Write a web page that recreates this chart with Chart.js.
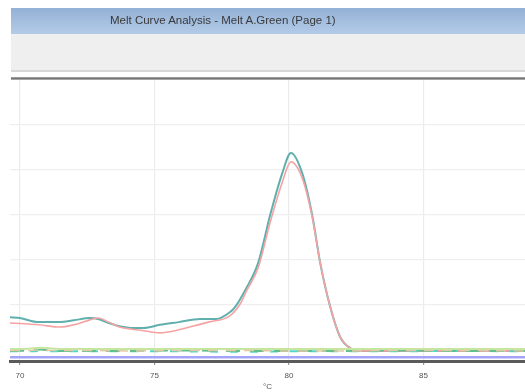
<!DOCTYPE html>
<html lang="en">
<head>
    <meta charset="UTF-8">
    <title>Melt Curve Analysis - Melt A.Green (Page 1)</title>
    <script src="https://cdn.jsdelivr.net/npm/chart.js"></script>
    <style>
        html, body { margin: 0; padding: 0; background: #fff; }
        #wrap { position: relative; width: 525px; height: 392px; overflow: hidden; }
        #titlebar {
            position: absolute; left: 11px; top: 8px; width: 514px; height: 26px;
            background: linear-gradient(#93b1d6, #b3cbe7);
            font: 11.5px "Liberation Sans", Arial, sans-serif; color: #3a3a3a;
        }
        #titlebar span { position: absolute; left: 99px; top: 6px; }
        #toolbar {
            position: absolute; left: 11px; top: 34px; width: 514px; height: 36px;
            background: #efefef; border-bottom: 2px solid #d8d8d8;
        }
        #topline {
            position: absolute; left: 11px; top: 77px; width: 514px; height: 3px;
            background: linear-gradient(#aaa, #777, #bbb);
        }
        canvas { position: absolute; left: 0; top: 0; }
    </style>
</head>
<body>
<div id="wrap">
    <canvas id="melt" width="525" height="392"></canvas>
    <div id="titlebar"><span>Melt Curve Analysis - Melt A.Green (Page 1)</span></div>
    <div id="toolbar"></div>
    <div id="topline"></div>
</div>

<script>
    // temperatures (°C) and -dF/dT values
    const tempsA = [69.63, 70.0, 70.7, 71.5, 72.0, 72.6, 72.9, 73.3, 73.7, 74.2, 74.6, 75.2, 75.9, 76.7, 77.3, 77.8, 78.0, 78.37, 78.85, 79.3, 79.75, 80.07, 80.49, 80.86, 81.16, 81.53, 81.9, 82.28, 82.65, 84.0, 86.0, 88.77];
    const tealVals = [0.73, 0.71, 0.62, 0.62, 0.66, 0.71, 0.69, 0.60, 0.53, 0.49, 0.49, 0.56, 0.62, 0.69, 0.69, 0.84, 0.96, 1.33, 1.93, 3.00, 3.93, 4.38, 3.93, 3.00, 1.93, 0.96, 0.29, 0.04, -0.02, -0.02, -0.02, -0.02];

    const tempsB = [69.63, 70.7, 71.5, 72.0, 72.6, 72.9, 73.3, 73.7, 74.5, 75.2, 75.5, 76.3, 77.0, 77.8, 78.2, 78.4, 78.85, 79.3, 79.75, 80.07, 80.49, 80.86, 81.16, 81.53, 81.9, 82.28, 82.65, 85.0, 88.77];
    const pinkVals = [0.60, 0.56, 0.51, 0.56, 0.67, 0.71, 0.62, 0.51, 0.44, 0.38, 0.40, 0.51, 0.62, 0.76, 1.04, 1.29, 1.82, 2.84, 3.73, 4.18, 3.82, 2.96, 1.93, 0.96, 0.29, 0.04, -0.02, -0.02, -0.02];

    // flat (negative) samples along the baseline
    const tempsFlat = [69.63, 70.3, 70.75, 71.3, 72.5, 74.0, 76.0, 78.0, 80.0, 82.0, 84.0, 86.0, 88.77];
    const limeVals = [0.02, 0.03, 0.05, 0.03, 0.02, 0.02, 0.02, 0.02, 0.02, 0.02, 0.02, 0.02, 0.02];
    const greenVals = [-0.02, -0.01, 0.01, -0.02, -0.02, -0.02, -0.01, -0.02, -0.02, -0.02, -0.01, -0.02, -0.02];
    const cyanVals = [-0.03, -0.03, -0.02, -0.03, -0.03, -0.03, -0.03, -0.04, -0.03, -0.03, -0.03, -0.02, -0.03];
    const tanVals = [-0.01, -0.01, 0.00, -0.01, -0.01, -0.02, -0.01, -0.01, -0.02, -0.02, -0.01, -0.01, -0.02];
    const violetVals = [-0.16, -0.16];
    const violetTemps = [69.63, 88.77];

    const xTicks = [70, 75, 80, 85];
    const yGrid = [1, 2, 3, 4, 5];

    function pts(xs, ys) {
        return xs.map((x, i) => ({ x: x, y: ys[i] }));
    }

    function line(label, xs, ys, color, width, dash) {
        return {
            label: label,
            data: pts(xs, ys),
            borderColor: color,
            borderWidth: width,
            borderDash: dash || [],
            pointRadius: 0,
            cubicInterpolationMode: 'monotone',
            fill: false
        };
    }

    new Chart(document.getElementById('melt'), {
        type: 'line',
        data: {
            datasets: [
                line('violet', violetTemps, violetVals, '#a3a3f7', 2.5),
                line('tan', tempsFlat, tanVals, '#e2c9a6', 1.5, [10, 8]),
                line('lime', tempsFlat, limeVals, '#c6e6a0', 2),
                line('green', tempsFlat, greenVals, '#62c08e', 2, [14, 10]),
                line('cyan', tempsFlat, cyanVals, '#52d6c8', 2, [8, 12]),
                line('pink', tempsB, pinkVals, '#f6a3a3', 1.6),
                line('teal', tempsA, tealVals, '#5fb0ad', 2)
            ]
        },
        options: {
            responsive: false,
            animation: false,
            layout: { padding: { left: 10, right: 0, top: 79, bottom: 0 } },
            plugins: { legend: { display: false }, tooltip: { enabled: false } },
            scales: {
                x: {
                    type: 'linear',
                    min: 69.63,
                    max: 88.77,
                    afterBuildTicks: s => { s.ticks = xTicks.map(v => ({ value: v })); },
                    afterFit: s => { s.height = 31; },
                    grid: { color: '#ececec', lineWidth: 1.2, tickLength: 4, tickColor: '#999' },
                    border: { color: '#5a5a5a', width: 3 },
                    ticks: { color: '#555', font: { size: 8 }, padding: 6, maxRotation: 0 },
                    title: { display: true, text: '°C', color: '#555', font: { size: 8 }, padding: { top: 0, bottom: 0 } }
                },
                y: {
                    min: -0.244,
                    max: 6.022,
                    afterBuildTicks: s => { s.ticks = yGrid.map(v => ({ value: v })); },
                    afterFit: s => { s.width = 0; },
                    grid: { color: '#efefef', lineWidth: 1.2, drawTicks: false },
                    border: { display: false },
                    ticks: { display: false }
                }
            }
        }
    });
</script>
</body>
</html>
